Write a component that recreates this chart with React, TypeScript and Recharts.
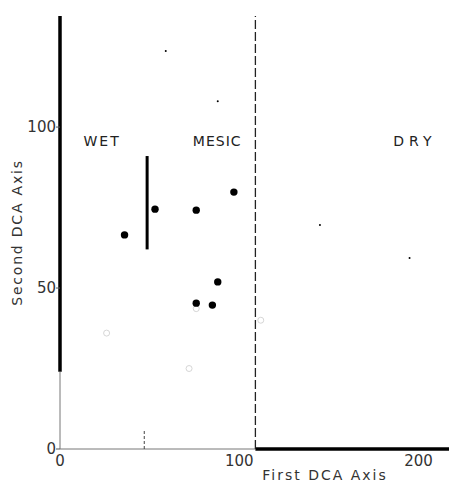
import React from 'react';
import { ScatterChart, Scatter, XAxis, YAxis, ReferenceLine, ReferenceDot } from 'recharts';

const filledX = [36, 53, 76, 97, 88, 76, 85];
const filledY = [66.5, 74.5, 74.2, 79.8, 51.9, 45.3, 44.7];
const smallX = [145, 195, 59, 88];
const smallY = [69.6, 59.3, 123.6, 108];
const openX = [26, 72, 112, 76];
const openY = [36, 25, 40, 43.6];
const xTicks = [0, 100, 200];
const yTicks = [0, 50, 100];
const zoneNames = ['WET', 'MESIC', 'DRY'];
const zoneX = [23.5, 87.7, 198];
const zoneY = [95.7, 95.7, 95.7];

const filled = filledX.map((x, i) => ({ x, y: filledY[i] }));
const small = smallX.map((x, i) => ({ x, y: smallY[i] }));
const open = openX.map((x, i) => ({ x, y: openY[i] }));

const FONT = '"DejaVu Sans", sans-serif';

const dot = (r: number, fill: string, stroke: string) => (p: any) => (
  <circle cx={p.cx} cy={p.cy} r={r} fill={fill} stroke={stroke} strokeWidth={0.8} />
);

export default function App() {
  return (
    <div style={{ position: 'absolute', left: 0, top: 0, background: '#fff' }}>
      <ScatterChart width={449} height={489} margin={{ top: 16, right: 0, bottom: 10, left: 0 }}>
        <XAxis
          type="number"
          dataKey="x"
          domain={[0, 217]}
          ticks={xTicks}
          axisLine={false}
          tickLine={false}
          tickSize={0}
          tickMargin={6}
          height={30}
          tick={{ fontSize: 15, fill: '#333', fontFamily: FONT }}
          allowDataOverflow
        />
        <YAxis
          type="number"
          dataKey="y"
          domain={[0, 134.5]}
          ticks={yTicks}
          axisLine={false}
          tickLine={{ stroke: '#555' }}
          tickSize={4}
          tickMargin={0}
          width={60}
          tick={{ fontSize: 15, fill: '#333', fontFamily: FONT }}
          allowDataOverflow
          label={{
            value: 'Second DCA Axis',
            angle: -90,
            position: 'insideLeft',
            offset: 17,
            style: { fontSize: 14, fill: '#333', fontFamily: FONT, letterSpacing: 1.8, textAnchor: 'middle' },
          }}
        />
        <ReferenceLine segment={[{ x: 0, y: 24 }, { x: 0, y: 134.5 }]} stroke="#000" strokeWidth={3.5} ifOverflow="visible" />
        <ReferenceLine segment={[{ x: 0, y: 0 }, { x: 0, y: 24 }]} stroke="#777" strokeWidth={1} ifOverflow="visible" />
        <ReferenceLine segment={[{ x: 0, y: 0 }, { x: 109, y: 0 }]} stroke="#777" strokeWidth={1} ifOverflow="visible" />
        <ReferenceLine segment={[{ x: 109, y: 0 }, { x: 217, y: 0 }]} stroke="#000" strokeWidth={3.5} ifOverflow="visible" />
        <ReferenceLine x={109} stroke="#222" strokeWidth={1.3} strokeDasharray="9 3" ifOverflow="visible" />
        <ReferenceLine segment={[{ x: 48.6, y: 62 }, { x: 48.6, y: 91 }]} stroke="#000" strokeWidth={3} ifOverflow="visible" />
        <ReferenceLine segment={[{ x: 47, y: 0 }, { x: 47, y: 6 }]} stroke="#444" strokeWidth={1} strokeDasharray="3 2" ifOverflow="visible" />
        {zoneNames.map((n, i) => (
          <ReferenceDot
            key={n}
            x={zoneX[i]}
            y={zoneY[i]}
            r={0}
            stroke="none"
            fill="none"
            label={{
              value: n,
              position: 'center',
              style: { fontSize: 14, fill: '#222', fontFamily: FONT, letterSpacing: i === 2 ? 5 : i === 1 ? 1 : 2 },
            }}
          />
        ))}
        <Scatter data={open} isAnimationActive={false} shape={dot(3, 'none', '#ccc')} />
        <Scatter data={small} isAnimationActive={false} shape={dot(1, '#000', 'none')} />
        <Scatter data={filled} isAnimationActive={false} shape={dot(3.7, '#000', 'none')} />
        <text x={325} y={480} textAnchor="middle" fontSize={14} fill="#333" fontFamily={FONT} letterSpacing={2}>
          First DCA Axis
        </text>
      </ScatterChart>
    </div>
  );
}
